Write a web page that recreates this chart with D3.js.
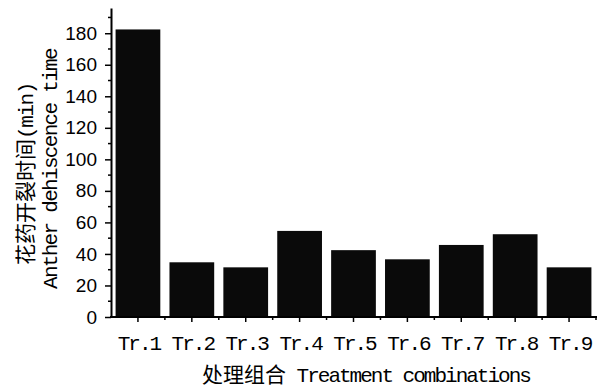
<!DOCTYPE html>
<html><head><meta charset="utf-8">
<script src="https://cdn.jsdelivr.net/npm/d3@7"></script>
<style>body{margin:0;background:#fff}svg{display:block}</style>
</head><body>
<script>
const categories = ["Tr.1","Tr.2","Tr.3","Tr.4","Tr.5","Tr.6","Tr.7","Tr.8","Tr.9"];
const values = [182.4, 34.7, 31.5, 54.6, 42.4, 36.6, 45.7, 52.5, 31.5];
const yTicks = [0,20,40,60,80,100,120,140,160,180];
const yMinorTicks = [10,30,50,70,90,110,130,150,170,190];
const yTitleCN = "花药开裂时间";
const yTitleUnit = "(min)";
const yTitleEN = "Anther dehiscence time";
const xTitleCN = "处理组合";
const xTitleEN = " Treatment combinations";

const W = 606, H = 387;
const svg = d3.select("body").append("svg").attr("width", W).attr("height", H);
const x0 = 111, x1 = 596, yBase = 317;
const y = d3.scaleLinear().domain([0, 196]).range([yBase, 8]);
const x = d3.scaleBand().domain(categories).range([x0, x1]).paddingInner(0.17).paddingOuter(0.085);

const mono = "'Liberation Mono','DejaVu Sans Mono',monospace";
const cjk = "'Noto Sans CJK SC','Noto Sans CJK JP',sans-serif";
const monoLS = -2;

// bars
svg.selectAll("rect.bar").data(values).join("rect")
  .attr("class","bar")
  .attr("x", (d,i) => x(categories[i]))
  .attr("width", x.bandwidth())
  .attr("y", d => y(d))
  .attr("height", d => yBase - y(d))
  .attr("fill", "#0a0a0a");

// y axis
const yAxisG = svg.append("g").attr("transform", `translate(${x0},0)`);
yAxisG.call(d3.axisLeft(y).tickValues(yTicks).tickSize(6).tickSizeOuter(0).tickPadding(8))
  .call(g => g.select(".domain").attr("stroke-width", 2))
  .call(g => g.selectAll(".tick line").attr("stroke-width", 1.5))
  .call(g => g.selectAll(".tick text").attr("font-family","'Liberation Sans',Arial,sans-serif").attr("font-size", 19).attr("fill","#000"));
yAxisG.selectAll("line.minor").data(yMinorTicks).join("line")
  .attr("class","minor").attr("x1",-3).attr("x2",0)
  .attr("y1", d => y(d)).attr("y2", d => y(d))
  .attr("stroke","#000").attr("stroke-width",1.5);

// x axis
const xAxisG = svg.append("g").attr("transform", `translate(0,${yBase})`);
xAxisG.append("line").attr("x1", x0 - 1).attr("x2", x1 + 1).attr("stroke","#000").attr("stroke-width",2);
xAxisG.selectAll("line.major").data(categories).join("line")
  .attr("class","major")
  .attr("x1", d => x(d) + x.bandwidth()/2).attr("x2", d => x(d) + x.bandwidth()/2)
  .attr("y1", 0).attr("y2", 5).attr("stroke","#000").attr("stroke-width",1.5);
const bounds = categories.slice(1).map(d => x(d) - x.step()*x.paddingInner()/2).concat([x1]);
xAxisG.selectAll("line.minor").data(bounds).join("line")
  .attr("class","minor")
  .attr("x1", d => d).attr("x2", d => d)
  .attr("y1", 0).attr("y2", 3).attr("stroke","#000").attr("stroke-width",1.5);
xAxisG.selectAll("text.xl").data(categories).join("text")
  .attr("class","xl")
  .attr("x", d => x(d) + x.bandwidth()/2 + 1).attr("y", 33)
  .attr("text-anchor","middle")
  .attr("font-family", mono).attr("font-size", 21).attr("letter-spacing", monoLS)
  .text(d => d);

// x title
const xt = svg.append("text").attr("x", 202).attr("y", 382).attr("font-size", 21);
xt.append("tspan").attr("font-family", cjk).text(xTitleCN);
xt.append("tspan").attr("font-family", mono).attr("letter-spacing", monoLS).text(xTitleEN);

// y titles
const yt1 = svg.append("text").attr("transform", "translate(33,265) rotate(-90)").attr("font-size", 21);
yt1.append("tspan").attr("font-family", cjk).text(yTitleCN);
yt1.append("tspan").attr("font-family", mono).attr("letter-spacing", -1.4).text(yTitleUnit);
const yt2 = svg.append("text").attr("transform", "translate(57,289) rotate(-90)").attr("font-size", 21)
  .attr("font-family", mono).attr("letter-spacing", -1.7).text(yTitleEN);
</script>
</body></html>
